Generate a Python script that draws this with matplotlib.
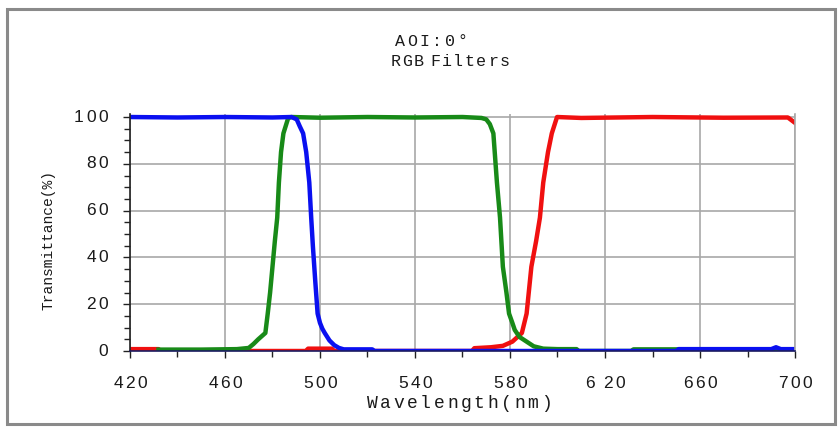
import matplotlib
matplotlib.use("Agg")
import matplotlib.pyplot as plt
from matplotlib.patches import Rectangle

# Transmittance curves of the three colour filters (wavelength in nm, T in %)
red_nm = [420, 432, 433, 494, 495, 505, 506, 564, 565, 572, 577, 581, 585, 587,
          589, 591, 592.6, 594, 596, 597.6, 599.8, 610, 640, 670, 697, 700]
red_t = [0.8, 0.8, 0.0, 0.0, 1.0, 1.0, 0.0, 0.0, 1.2, 1.6, 2.2, 4, 7.7, 16,
         36, 47, 57, 72, 85, 93, 100, 99.6, 100, 99.7, 99.8, 97.5]

green_nm = [432, 450, 465, 470, 472, 474, 477, 478, 479, 480, 481, 482, 482.7,
            483.6, 484.6, 486.6, 488, 500, 520, 540, 560, 568, 570, 571.5, 573,
            574.5, 575.8, 577, 578.5, 579.6, 581, 582, 584, 587, 590, 594, 600,
            608, 609, 631, 632, 700]
green_t = [0.6, 0.6, 0.8, 1.3, 3, 5, 7.7, 16, 25, 36, 47, 57, 72,
           85, 93, 99.5, 100, 99.7, 100, 99.8, 100, 99.6, 99, 97, 93,
           72, 57, 36, 25, 16, 12, 9, 6, 4, 2, 1, 0.8,
           0.8, 0.0, 0.0, 0.7, 0.7]

blue_nm = [420, 440, 460, 480, 488, 490.2, 491.5, 492.9, 494.2, 495.5, 496.3,
           497, 498, 499, 500, 501, 502, 504, 506, 508, 510, 522, 523, 650,
           651, 690, 692, 694, 700]
blue_t = [100, 99.8, 100, 99.8, 100, 99, 96, 93, 85, 72, 57,
          45, 30, 16, 12, 9.5, 7.7, 4.5, 2.5, 1.3, 0.7, 0.7, 0.0, 0.0,
          0.8, 0.8, 1.6, 0.8, 0.8]

x_ticks = [420, 460, 500, 540, 580, 620, 660, 700]
x_labels = ["420", "460", "500", "540", "580", "6 20", "660", "700"]
y_ticks = [0, 20, 40, 60, 80, 100]

mono = "Liberation Mono"
sans = "Liberation Sans"
PT = 0.72  # points per pixel at 100 dpi


def spread(ax, xy, coords, s, step, dx=0, dy=0, vertical=False,
           align="center", **kw):
    """Lay a string out one glyph at a time with a fixed pitch (in pixels)."""
    advances = [step * 0.45 if ch == " " else step for ch in s]
    total = sum(advances) - advances[-1]
    if align == "center":
        start = -total / 2
    else:  # right: last glyph centre sits on the anchor
        start = -total
    pos = start
    for ch, adv in zip(s, advances):
        if ch != " ":
            off = (dx * PT, (dy + pos) * PT) if vertical else ((dx + pos) * PT, dy * PT)
            ax.annotate(ch, xy=xy, xycoords=coords, xytext=off,
                        textcoords="offset points", ha="center",
                        va="center", rotation=90 if vertical else 0,
                        annotation_clip=False, **kw)
        pos += adv


fig = plt.figure(figsize=(8.38, 4.28), dpi=100)
fig.patch.set_facecolor("white")

# grey window frame around the whole chart
fig.patches.append(Rectangle((0.008, 0.01), 0.988, 0.968, transform=fig.transFigure,
                             fill=False, edgecolor="#8a8a8a", linewidth=2.2))

ax = fig.add_axes([0.1551, 0.1799, 0.7936, 0.5549])

ax.plot(red_nm, red_t, color="#f01010", lw=3.2, solid_joinstyle="round")
ax.plot(green_nm, green_t, color="#188a18", lw=3.2, solid_joinstyle="round")
ax.plot(blue_nm, blue_t, color="#0a10f0", lw=3.2, solid_joinstyle="round")

ax.set_xlim(420, 700)
ax.set_ylim(0, 101.5)

ax.set_xticks(x_ticks)
ax.set_xticks(range(440, 700, 40), minor=True)
ax.set_yticks(y_ticks)
ax.set_yticks(range(0, 101, 5), minor=True)
ax.tick_params(axis="both", which="both", labelbottom=False, labelleft=False)
ax.tick_params(axis="both", which="major", direction="out", length=5, width=1,
               color="#222222")
ax.tick_params(axis="both", which="minor", direction="out", length=4, width=1,
               color="#222222")

# widely spaced tick numbers
for v, lab in zip(x_ticks, x_labels):
    spread(ax, (v, 0), ("data", "axes fraction"), lab, 12.0, dy=-32,
           fontfamily=sans, fontsize=12.5, color="#1a1a1a")
for v in y_ticks:
    spread(ax, (0, v), ("axes fraction", "data"), str(v), 12.0, dx=-27,
           align="right", fontfamily=sans, fontsize=12.5, color="#1a1a1a")

ax.grid(True, which="major", color="#a8a8a8", linewidth=1.2)
ax.set_axisbelow(True)

ax.spines["top"].set_visible(False)
ax.spines["right"].set_color("#a8a8a8")
ax.spines["right"].set_linewidth(1.2)
ax.spines["left"].set_color("#222222")
ax.spines["bottom"].set_color("#1a1a60")
ax.spines["left"].set_linewidth(1.2)
ax.spines["bottom"].set_linewidth(1.2)

# axis titles and chart title
spread(ax, (459 / 838, 1 - 403 / 428), "figure fraction", "Wavelength(nm)", 13.4,
       fontfamily=mono, fontsize=13, color="#1a1a1a")
ax.annotate("Transmittance(%)", xy=(48 / 838, 1 - 240 / 428),
            xycoords="figure fraction", ha="center", va="center", rotation=90,
            fontfamily=mono, fontsize=10.5, color="#1a1a1a")
spread(ax, (431 / 838, 1 - 42 / 428), "figure fraction", "AOI:0°", 12.5,
       fontfamily=mono, fontsize=12, color="#1a1a1a")
spread(ax, (450 / 838, 1 - 62 / 428), "figure fraction", "RGB Filters", 11.5,
       fontfamily=mono, fontsize=12, color="#1a1a1a")

fig.savefig("out.png", dpi=100, facecolor="white")
